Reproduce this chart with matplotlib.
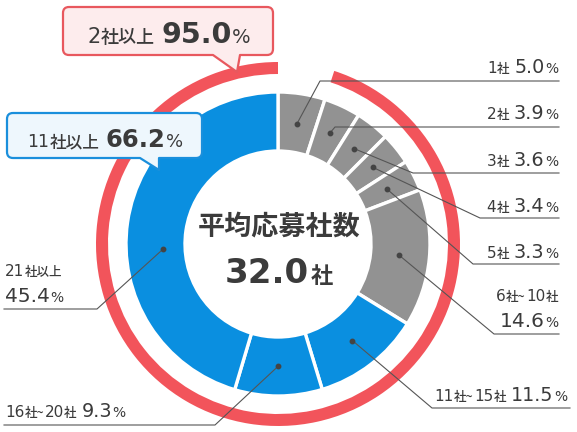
import re

import matplotlib as mpl
import matplotlib.pyplot as plt
import numpy as np
from matplotlib.patches import PathPatch
from matplotlib.path import Path

mpl.use("Agg")

JP = ["Noto Sans CJK JP", "DejaVu Sans"]
NUM = ["DejaVu Sans", "Noto Sans CJK JP"]
plt.rcParams["font.family"] = JP

# 応募社数の分布 (%)
labels = ["1社", "2社", "3社", "4社", "5社", "6社~10社", "11社~15社", "16社~20社", "21社以上"]
shares = [5.0, 3.9, 3.6, 3.4, 3.3, 14.6, 11.5, 9.3, 45.4]
groups = ["low", "low", "low", "low", "low", "low", "high", "high", "high"]

avg_title = "平均応募社数"
avg_count = 32.0
share_2plus = 95.0
share_11plus = 66.2

W, H = 577, 432
CX, CY = 278, H - 244
R_OUT, R_IN = 152, 93
R_RING, RING_W = 182, 12
R_DOT = 122

GREY = "#929292"
BLUE = "#0a8fe0"
RED = "#f2545b"
TEXT = "#3b3b3b"
LINE = "#555555"
MED = "medium"

fig = plt.figure(figsize=(W / 100, H / 100), dpi=100)
ax = fig.add_axes([0, 0, 1, 1])
renderer = fig.canvas.get_renderer()


def iy(y):
    # 画像座標 (下向き) -> データ座標 (上向き)
    return H - y


def rich(x, y, parts, align="left"):
    # parts: (文字列, サイズ, 太さ, フォント) または 余白(px)
    items = []
    total = 0.0
    for p in parts:
        if isinstance(p, (int, float)):
            items.append((None, p))
            total += p
            continue
        s, size, weight, fam = p
        t = ax.text(0, y, s, fontsize=size, fontweight=weight, color=TEXT,
                    family=fam, ha="left", va="baseline", zorder=10)
        w = t.get_window_extent(renderer).width
        items.append((t, w))
        total += w
    if align == "right":
        cur = x - total
    elif align == "center":
        cur = x - total / 2
    else:
        cur = x
    for t, w in items:
        if t is not None:
            t.set_x(cur)
        cur += w


def label_parts(name, num_size, small_size):
    out = []
    for chunk in re.findall(r"\d+|\D+", name):
        if chunk.isdigit():
            out.append((chunk, num_size, "normal", NUM))
        else:
            out.append((chunk, small_size, MED, JP))
        out.append(0.3)
    return out[:-1]


def callout(x0, y0, x1, y1, tail_x0, tail_x1, tip, face, edge, r=6):
    # 画像座標で吹き出し (角丸 + 下向きのしっぽ)
    X0, X1 = x0, x1
    T, B = iy(y0), iy(y1)
    verts = [
        (X0 + r, T), (X1 - r, T),
        (X1, T), (X1, T - r),
        (X1, B + r),
        (X1, B), (X1 - r, B),
        (tail_x1, B), (tip[0], iy(tip[1])), (tail_x0, B),
        (X0 + r, B),
        (X0, B), (X0, B + r),
        (X0, T - r),
        (X0, T), (X0 + r, T),
        (X0 + r, T),
    ]
    codes = [
        Path.MOVETO, Path.LINETO,
        Path.CURVE3, Path.CURVE3,
        Path.LINETO,
        Path.CURVE3, Path.CURVE3,
        Path.LINETO, Path.LINETO, Path.LINETO,
        Path.LINETO,
        Path.CURVE3, Path.CURVE3,
        Path.LINETO,
        Path.CURVE3, Path.CURVE3,
        Path.CLOSEPOLY,
    ]
    ax.add_patch(PathPatch(Path(verts, codes), facecolor=face, edgecolor=edge,
                           linewidth=1.6, joinstyle="round", zorder=8))


# ドーナツ本体
seg_colors = [GREY if g == "low" else BLUE for g in groups]
ax.pie(shares, colors=seg_colors, startangle=90, counterclock=False,
       radius=R_OUT, center=(CX, CY),
       wedgeprops=dict(width=R_OUT - R_IN, edgecolor="white", linewidth=2.4))

# 2社以上の赤いリング
ax.pie([100 - share_2plus, share_2plus], colors=["none", RED], startangle=90,
       counterclock=False, radius=R_RING, center=(CX, CY),
       wedgeprops=dict(width=RING_W, linewidth=0))

# 中央テキスト
ax.text(CX + 1, iy(227), avg_title, fontsize=19.5, fontweight="bold", color=TEXT,
        ha="center", va="center", zorder=10)
rich(CX + 1, iy(283), [(f"{avg_count:.1f}", 24.5, "bold", NUM), 2,
                       ("社", 16, "bold", JP)], align="center")

# ラベル配置 (画像座標): 名前の基線, 値の基線, 折れ点, 線の端, 揃え
layout = {
    "1社": dict(name_y=73, val_y=73, elbow=(320, 81), end=559, side="right"),
    "2社": dict(name_y=119, val_y=119, elbow=(335, 127), end=559, side="right"),
    "3社": dict(name_y=166, val_y=166, elbow=(413, 173), end=559, side="right"),
    "4社": dict(name_y=212, val_y=212, elbow=(480, 218), end=559, side="right"),
    "5社": dict(name_y=258, val_y=258, elbow=(473, 264), end=559, side="right"),
    "6社~10社": dict(name_y=301, val_y=327, elbow=(494, 334), end=559, side="right"),
    "11社~15社": dict(name_y=401, val_y=401, elbow=(432, 408), end=570, side="right"),
    "16社~20社": dict(name_y=417, val_y=417, elbow=(215, 425), end=4, side="left"),
    "21社以上": dict(name_y=276, val_y=302, elbow=(97, 309), end=4, side="left"),
}
dot_override = {"21社以上": (74.3, 115)}

cum = np.cumsum([0] + shares)
for i, (name, v) in enumerate(zip(labels, shares)):
    cfg = layout[name]
    frac, rr = dot_override.get(name, ((cum[i] + cum[i + 1]) / 2, R_DOT))
    ang = np.deg2rad(90 - frac * 3.6)
    dx, dy = CX + rr * np.cos(ang), CY + rr * np.sin(ang)
    ex, ey = cfg["elbow"][0], iy(cfg["elbow"][1])
    ax.plot([dx, ex, cfg["end"]], [dy, ey, ey], color=LINE, linewidth=0.8, zorder=5)
    ax.plot(dx, dy, "o", color="#444444", markersize=3.2, zorder=6)

    two_line = cfg["name_y"] != cfg["val_y"]
    val_size = 14.5 if two_line else 13.8
    name_parts = label_parts(name, 11, 9)
    val_parts = [(f"{v:.1f}", val_size, "normal", NUM), 0.3, ("%", 10, "normal", NUM)]
    if cfg["side"] == "right":
        tx = cfg["end"] - 1 if cfg["end"] < 565 else cfg["end"] - 3
        if not two_line:
            rich(tx, iy(cfg["name_y"]), name_parts + [5] + val_parts, align="right")
        else:
            rich(tx, iy(cfg["name_y"]), name_parts, align="right")
            rich(tx, iy(cfg["val_y"]), val_parts, align="right")
    else:
        tx = 5
        if not two_line:
            rich(tx, iy(cfg["name_y"]), name_parts + [5] + val_parts)
        else:
            rich(tx, iy(cfg["name_y"]), name_parts)
            rich(tx, iy(cfg["val_y"]), val_parts)

# 吹き出し
callout(63, 7, 273, 55, 213, 240, (237, 72), "#fdeced", "#e8585e")
rich(169, iy(43), [("2", 15, "normal", NUM), 0.3, ("社以上", 13, MED, JP), 7,
                   (f"{share_2plus:.1f}", 20.5, "bold", NUM), 0.3, ("%", 14, "normal", NUM)],
     align="center")

callout(7, 113, 202, 158, 140, 159, (159, 170), "#eef7fd", "#1a8fdc")
rich(105, iy(147), [("11", 12.5, "normal", NUM), 0.3, ("社以上", 12, MED, JP), 6,
                    (f"{share_11plus:.1f}", 17.5, "bold", NUM), 0.3, ("%", 13, "normal", NUM)],
     align="center")

ax.set_xlim(0, W)
ax.set_ylim(0, H)
ax.set_aspect("equal")
ax.axis("off")

fig.savefig("out.png", dpi=100, facecolor="white")
